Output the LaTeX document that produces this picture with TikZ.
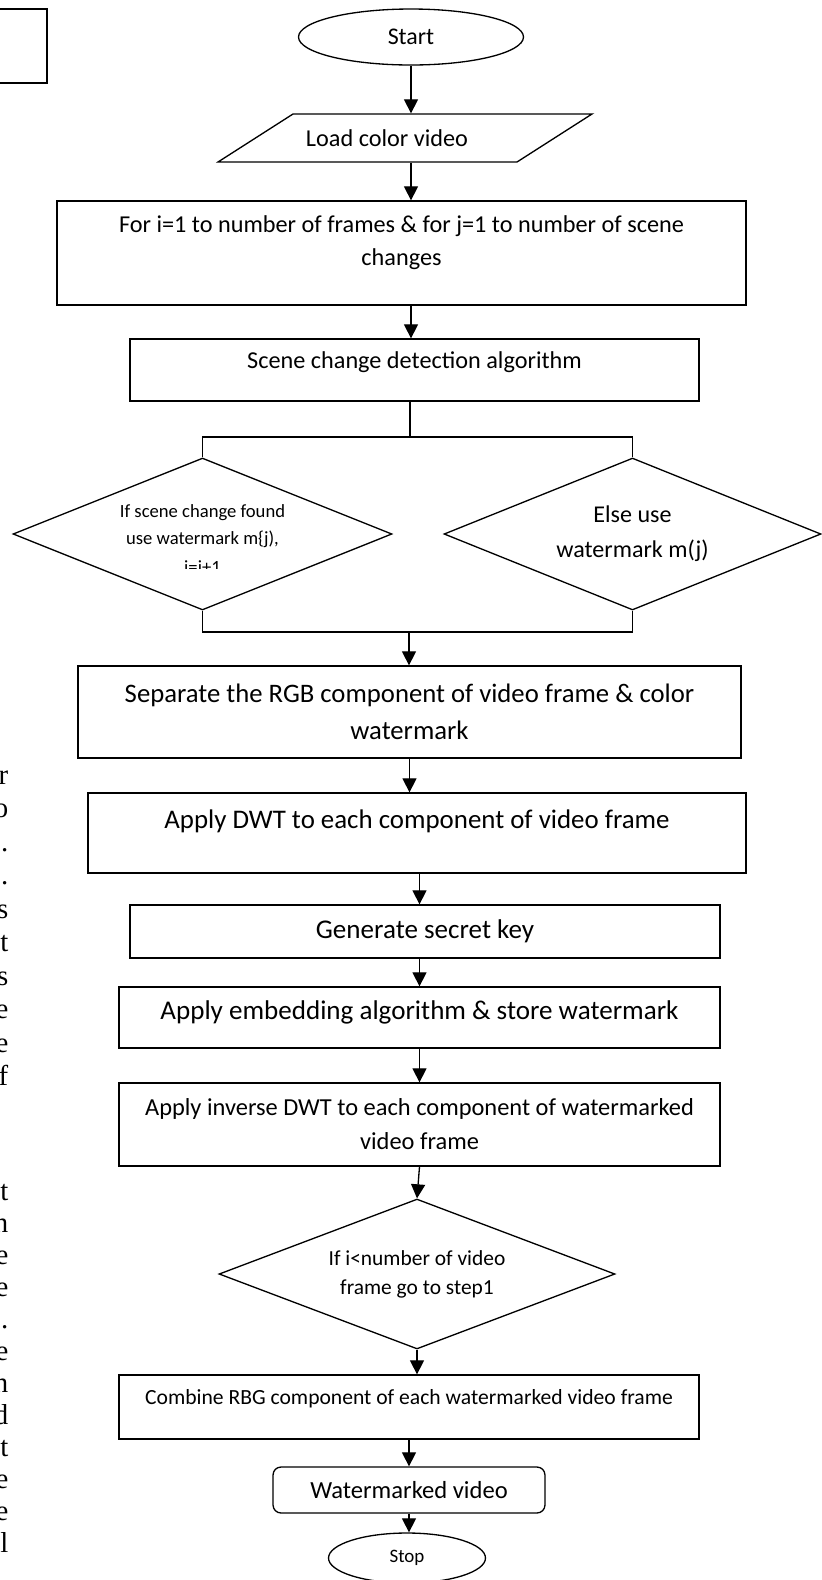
\documentclass[tikz,border=0pt]{standalone}
\usepackage{fontspec}
\setmainfont{Carlito}
\newfontfamily\pagefont{Liberation Serif}
\usetikzlibrary{arrows.meta}
\usetikzlibrary{shapes.geometric,calc}
\newcommand{\boxfont}[2]{\fontsize{#1pt}{#2pt}\selectfont}
\newcommand{\padbelow}[1]{\rule[-#1pt]{0pt}{#1pt}}

\begin{document}
\begin{tikzpicture}[x=0.02cm, y=-0.02cm, line width=0.75pt, >={Triangle[width=8pt,length=8pt]},
	process/.style={draw, rectangle, align=center, inner sep=0pt},
	decision/.style={draw, diamond, align=center, inner sep=0pt},
	terminal/.style={draw, ellipse, inner sep=0pt},
	margintext/.style={anchor=base east, inner sep=0pt, font=\pagefont\boxfont{16.4}{19}}]
		\useasboundingbox (0,0) rectangle (822,1580);
		\draw (-10,9) rectangle (47,83);
		\foreach \t [count=\k] in {r,o,s.,o.,s,t,s,e,e,f}
			\draw (9,{784+33.5*(\k-1)}) node[margintext](upper\k){\t};
		\foreach \t [count=\k] in {t,n,e,e,o.,e,n,d,pt,e,e,l}
			\draw (9,{1200+32*(\k-1)}) node[margintext](lower\k){\t};
		\draw (411,37) node[terminal, minimum width=4.5cm, minimum height=1.12cm, font=\boxfont{13.6}{16}](start){Start};
		\draw (293,114) -- (592,114) -- (517,162) -- (218,162) -- cycle;
		\draw (387,138) node[inner sep=0pt, minimum height=0.96cm, font=\boxfont{13.8}{16}](load){Load color video};
		\draw (401.5,253) node[process, minimum width=13.78cm, minimum height=2.08cm, font=\boxfont{13.8}{18.7}](frames){For i=1 to number of frames \& for j=1 to number of scene\\changes\padbelow{14.2}};
		\draw (414.5,370) node[process, minimum width=11.38cm, minimum height=1.24cm, font=\boxfont{13.8}{16}](scene){Scene change detection algorithm\padbelow{11.1}};
		\draw (202.5,534) node[decision, minimum width=7.58cm, minimum height=3.04cm, aspect=2.5, font=\boxfont{10.6}{15.3}](found){If scene change found\\use watermark m\{j),\padbelow{10.9}};
		\begin{scope}
			\clip (100,548) rectangle (300,568);
			\draw (202.5,567) node[inner sep=0pt, font=\boxfont{10.6}{15.3}](counter){i=i+1};
		\end{scope}
		\draw (632.5,534) node[decision, minimum width=7.54cm, minimum height=3.04cm, aspect=2.5, font=\boxfont{13.7}{19.8}](other){Else use\\watermark m(j)};
		\draw (409.5,712) node[process, minimum width=13.26cm, minimum height=1.84cm, font=\boxfont{15.2}{21}](separate){Separate the RGB component of video frame \& color\\watermark};
		\draw (417,833) node[process, minimum width=13.16cm, minimum height=1.6cm, font=\boxfont{15.3}{17}](dwt){Apply DWT to each component of video frame\padbelow{15.9}};
		\draw (425,931.5) node[process, minimum width=11.8cm, minimum height=1.06cm, font=\boxfont{15.4}{17}](generate){Generate secret key};
		\draw (419.5,1017.5) node[process, minimum width=12.02cm, minimum height=1.22cm, font=\boxfont{15.4}{17}](embed){Apply embedding algorithm \& store watermark\padbelow{8.5}};
		\draw (419.5,1124.5) node[process, minimum width=12.02cm, minimum height=1.66cm, font=\boxfont{13.9}{19.3}](inverse){Apply inverse DWT to each component of watermarked\\video frame};
		\draw (417,1274) node[decision, minimum width=7.92cm, minimum height=3cm, aspect=2.6, font=\boxfont{12.2}{16.4}](decision){If i<number of video\\frame go to step1};
		\draw (409,1407) node[process, minimum width=11.6cm, minimum height=1.28cm, font=\boxfont{12.3}{14}](combine){Combine RBG component of each watermarked video frame\padbelow{11.7}};
		\draw (409,1490) node[process, rounded corners=0.16cm, minimum width=5.44cm, minimum height=0.92cm, font=\boxfont{14}{17}](video){Watermarked video};
		\draw (407,1558) node[terminal, minimum width=3.14cm, minimum height=1cm, font=\boxfont{10.8}{13}](stop){Stop};
		\coordinate (fork) at (410,437);
		\coordinate (join) at (409,632);
		\draw[->] (start.south) -- (start.south |- load.north);
		\draw[->] (start.south |- load.south) -- (start.south |- frames.north);
		\draw[->] (start.south |- frames.south) -- (start.south |- scene.north);
		\draw (scene.south -| fork) -- (fork);
		\draw (found.north) |- (fork) -| (other.north);
		\draw (found.south) |- (join) -| (other.south);
		\draw[->] (join) -- (join |- separate.north);
		\draw[->] (separate.south) -- (separate.south |- dwt.north);
		\draw[->] (embed.north |- dwt.south) -- (embed.north |- generate.north);
		\draw[->] (embed.north |- generate.south) -- (embed.north);
		\draw[->] (embed.south) -- (inverse.north);
		\draw[->] (inverse.south) -- (decision.north);
		\draw[->] (decision.south) -- (decision.south |- combine.north);
		\draw[->] (combine.south) -- (video.north);
		\draw[->] (video.south) -- (video.south |- stop.north);
	\end{tikzpicture}
\end{document}
